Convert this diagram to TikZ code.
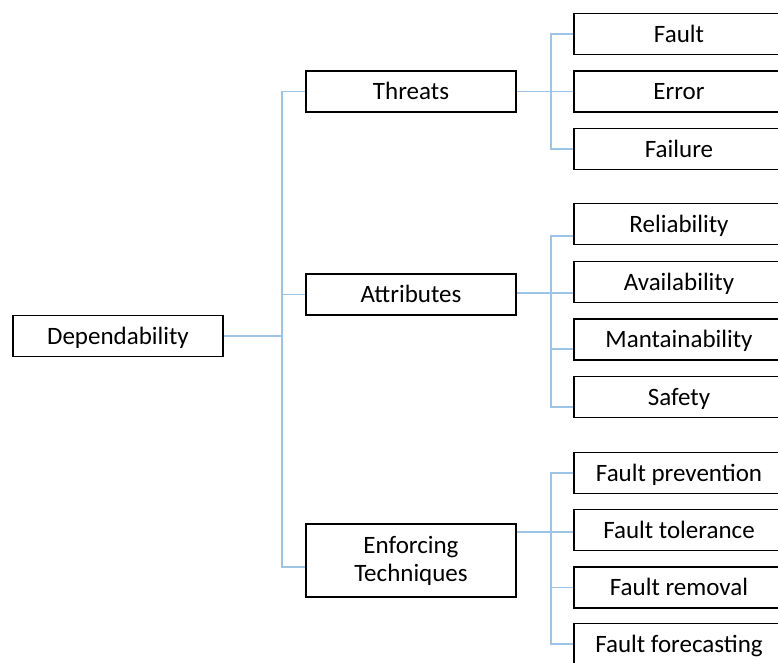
\documentclass[tikz,border=0pt]{standalone}
\usepackage{fontspec}
\setmainfont{Carlito}
\definecolor{linkblue}{RGB}{157,195,230}
\begin{document}
\begin{tikzpicture}[x=1pt,y=-1pt,
  box/.style={draw=black, line width=1.5pt, minimum width=210pt, minimum height=41pt,
    inner sep=0pt, font=\fontsize{25}{28}\selectfont, align=center},
  onebox/.style={box, text height=21.5pt, text depth=5pt},
  link/.style={draw=linkblue, line width=1.3pt}]
\useasboundingbox (0,0) rectangle (778,662);
\clip (0,0) rectangle (778,662);

% root and first level
\node[onebox] (dep) at (118,336) {Dependability};
\node[onebox] (thr) at (411,91.5) {Threats};
\node[onebox] (att) at (411,294.5) {Attributes};
\node[box, minimum height=73pt] (enf) at (411,560.5) {Enforcing\\Techniques};

% threats
\node[onebox] (fault) at (679,34) {Fault};
\node[onebox] (err) at (679,91.5) {Error};
\node[onebox] (fail) at (679,149) {Failure};

% attributes
\node[onebox] (rel) at (679,224) {Reliability};
\node[onebox] (avail) at (679,282) {Availability};
\node[onebox] (mant) at (679,339.5) {Mantainability};
\node[onebox] (safe) at (679,397) {Safety};

% enforcing techniques
\node[onebox] (fprev) at (679,473) {Fault prevention};
\node[onebox] (ftol) at (679,530) {Fault tolerance};
\node[onebox] (frem) at (679,587.5) {Fault removal};
\node[onebox] (ffor) at (679,644) {Fault forecasting};

% trunk positions
\coordinate (tL) at (282,336);
\coordinate (tR) at (551,0);

% root connectors
\coordinate (enfL) at ([yshift=-6.5pt]enf.west);
\draw[link] (dep.east) -- (tL);
\draw[link] (thr.west) -- (thr.west -| tL) -- (enfL -| tL) -- (enfL);
\draw[link] (att.west) -- (att.west -| tL);

% threats connectors
\draw[link] (thr.east) -- (err.west);
\draw[link] (fault.west) -- (fault.west -| tR) -- (fail.west -| tR) -- (fail.west);

% attributes connectors
\coordinate (relL) at ([yshift=-12pt]rel.west);
\coordinate (availL) at ([yshift=-11pt]avail.west);
\coordinate (mantL) at ([yshift=-9.5pt]mant.west);
\coordinate (safeL) at ([yshift=-10pt]safe.west);
\draw[link] ([yshift=1.5pt]att.east) -- (availL);
\draw[link] (relL) -- (relL -| tR) -- (safeL -| tR) -- (safeL);
\draw[link] (mantL -| tR) -- (mantL);

% enforcing connectors
\coordinate (enfR) at ([yshift=28.5pt]enf.east);
\draw[link] (enfR) -- (enfR -| ftol.west);
\draw[link] (fprev.west) -- (fprev.west -| tR) -- (ffor.west -| tR) -- (ffor.west);
\draw[link] (frem.west -| tR) -- (frem.west);
\end{tikzpicture}
\end{document}
